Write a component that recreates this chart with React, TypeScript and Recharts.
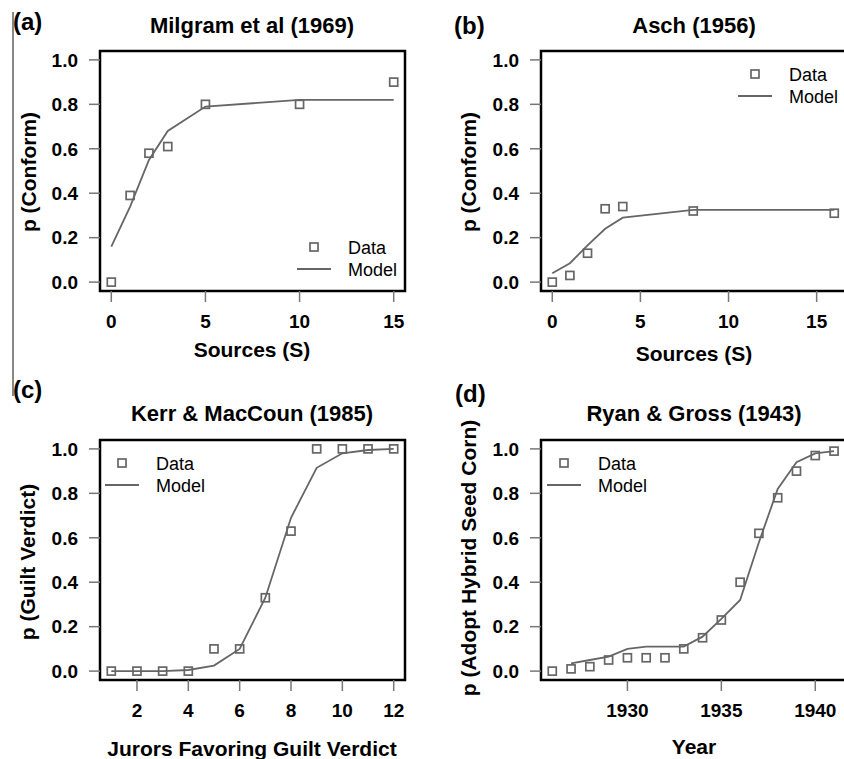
import React from "react";
import {
  ComposedChart,
  Line,
  Scatter,
  XAxis,
  YAxis,
  ReferenceArea,
} from "recharts";

const FONT = '"Liberation Sans", Arial, Helvetica, sans-serif';

// shared y ticks
const yTicks = [0, 0.2, 0.4, 0.6, 0.8, 1.0];

// (a) Milgram et al (1969)
const milgramSources = [0, 1, 2, 3, 5, 10, 15];
const milgramData = [0, 0.39, 0.58, 0.61, 0.8, 0.8, 0.9];
const milgramModel = [0.16, 0.34, 0.55, 0.68, 0.79, 0.82, 0.82];
const milgramTicks = [0, 5, 10, 15];

// (b) Asch (1956)
const aschSources = [0, 1, 2, 3, 4, 8, 16];
const aschData = [0, 0.03, 0.13, 0.33, 0.34, 0.32, 0.31];
const aschModel = [0.04, 0.085, 0.165, 0.24, 0.29, 0.325, 0.325];
const aschTicks = [0, 5, 10, 15];

// (c) Kerr & MacCoun (1985)
const jurors = [1, 2, 3, 4, 5, 6, 7, 8, 9, 10, 11, 12];
const kerrData = [0, 0, 0, 0, 0.1, 0.1, 0.33, 0.63, 1, 1, 1, 1];
const kerrModel = [0, 0, 0, 0.005, 0.025, 0.1, 0.33, 0.69, 0.915, 0.98, 0.995, 1];
const kerrTicks = [2, 4, 6, 8, 10, 12];

// (d) Ryan & Gross (1943)
const ryanYears = [
  1926, 1927, 1928, 1929, 1930, 1931, 1932, 1933, 1934, 1935, 1936, 1937, 1938,
  1939, 1940, 1941,
];
const ryanData = [
  0, 0.01, 0.02, 0.05, 0.06, 0.06, 0.06, 0.1, 0.15, 0.23, 0.4, 0.62, 0.78, 0.9,
  0.97, 0.99,
];
const ryanModelYears = [
  1927, 1928, 1929, 1930, 1931, 1932, 1933, 1934, 1935, 1936, 1937, 1938, 1939,
  1940, 1941,
];
const ryanModel = [
  0.035, 0.05, 0.065, 0.1, 0.11, 0.11, 0.11, 0.155, 0.235, 0.32, 0.58, 0.82,
  0.94, 0.98, 0.99,
];
const ryanTicks = [1930, 1935, 1940];

const zip = (xs: number[], ys: number[]) => xs.map((x, i) => ({ x, y: ys[i] }));

const GRAY = "#666";

const Square = (props: any) => {
  const { cx, cy } = props;
  if (cx == null || cy == null) return null;
  return (
    <rect
      x={cx - 4}
      y={cy - 4}
      width={8}
      height={8}
      fill="none"
      stroke={GRAY}
      strokeWidth={1.7}
    />
  );
};

interface PanelProps {
  left: number;
  top: number;
  width: number;
  height: number;
  margin: { top: number; right: number; bottom: number; left: number };
  xDomain: [number, number];
  xTicks: number[];
  line: { x: number; y: number }[];
  points: { x: number; y: number }[];
}

function Panel({ left, top, width, height, margin, xDomain, xTicks, line, points }: PanelProps) {
  const tickStyle = { fill: "#000", fontSize: 19, fontWeight: 700, fontFamily: FONT };
  return (
    <div style={{ position: "absolute", left, top }}>
      <ComposedChart width={width} height={height} margin={margin}>
        <XAxis
          type="number"
          dataKey="x"
          domain={xDomain}
          ticks={xTicks}
          interval={0}
          allowDataOverflow
          height={60}
          tickSize={11}
          tickMargin={13}
          axisLine={false}
          tickLine={{ stroke: "#777", strokeWidth: 1.5 }}
          tick={tickStyle}
        />
        <YAxis
          type="number"
          dataKey="y"
          domain={[-0.04, 1.04]}
          ticks={yTicks}
          interval={0}
          allowDataOverflow
          width={90}
          tickSize={11}
          tickMargin={11}
          axisLine={false}
          tickLine={{ stroke: "#777", strokeWidth: 1.5 }}
          tick={tickStyle}
          tickFormatter={(v: number) => v.toFixed(1)}
        />
        <ReferenceArea
          x1={xDomain[0]}
          x2={xDomain[1]}
          y1={-0.04}
          y2={1.04}
          fill="none"
          stroke="#000"
          strokeWidth={2.5}
          ifOverflow="visible"
        />
        <Line
          data={line}
          dataKey="y"
          type="linear"
          stroke={GRAY}
          strokeWidth={1.8}
          dot={false}
          activeDot={false}
          isAnimationActive={false}
        />
        <Scatter data={points} dataKey="y" shape={Square} isAnimationActive={false} />
      </ComposedChart>
    </div>
  );
}

function Label({
  x,
  y,
  text,
  size = 21,
  weight = 700,
  rotate = false,
  align = "center",
}: {
  x: number;
  y: number;
  text: string;
  size?: number;
  weight?: number;
  rotate?: boolean;
  align?: "center" | "left";
}) {
  const tx = align === "center" ? "-50%" : "0";
  return (
    <div
      style={{
        position: "absolute",
        left: x,
        top: y,
        transform: `translate(${tx}, -50%)${rotate ? " rotate(-90deg)" : ""}`,
        transformOrigin: rotate ? "50% 50%" : undefined,
        whiteSpace: "nowrap",
        fontFamily: FONT,
        fontSize: size,
        fontWeight: weight,
        lineHeight: 1,
        color: "#000",
      }}
    >
      {text}
    </div>
  );
}

function LegendBox({ x, y }: { x: number; y: number }) {
  // x,y = centre of the square marker
  return (
    <>
      <svg
        width={40}
        height={40}
        style={{ position: "absolute", left: x - 20, top: y - 10 }}
      >
        <rect x={16} y={6} width={8} height={8} fill="none" stroke={GRAY} strokeWidth={1.7} />
        <line x1={3} y1={32} x2={37} y2={32} stroke={GRAY} strokeWidth={1.8} />
      </svg>
      <Label x={x + 34} y={y + 1} text="Data" size={18} weight={400} align="left" />
      <Label x={x + 34} y={y + 23} text="Model" size={18} weight={400} align="left" />
    </>
  );
}

export default function App() {
  return (
    <div
      style={{
        position: "absolute",
        left: 0,
        top: 0,
        width: 844,
        height: 759,
        overflow: "hidden",
        background: "#fff",
      }}
    >
      {/* scan edge */}
      <div style={{ position: "absolute", left: 12, top: 12, width: 2, height: 384, background: "#888" }} />

      <Panel
        left={0}
        top={0}
        width={422}
        height={370}
        margin={{ top: 51, right: 17, bottom: 19, left: 10 }}
        xDomain={[-0.6, 15.6]}
        xTicks={milgramTicks}
        line={zip(milgramSources, milgramModel)}
        points={zip(milgramSources, milgramData)}
      />
      <Panel
        left={422}
        top={0}
        width={460}
        height={370}
        margin={{ top: 51, right: 16, bottom: 19, left: 29 }}
        xDomain={[-0.64, 17.8]}
        xTicks={aschTicks}
        line={zip(aschSources, aschModel)}
        points={zip(aschSources, aschData)}
      />
      <Panel
        left={0}
        top={370}
        width={422}
        height={389}
        margin={{ top: 70, right: 17, bottom: 19, left: 10 }}
        xDomain={[0.56, 12.44]}
        xTicks={kerrTicks}
        line={zip(jurors, kerrModel)}
        points={zip(jurors, kerrData)}
      />
      <Panel
        left={422}
        top={370}
        width={460}
        height={389}
        margin={{ top: 70, right: 16, bottom: 19, left: 29 }}
        xDomain={[1925.4, 1942.7]}
        xTicks={ryanTicks}
        line={zip(ryanModelYears, ryanModel)}
        points={zip(ryanYears, ryanData)}
      />

      {/* panel tags */}
      <Label x={13} y={22} text="(a)" size={24} align="left" />
      <Label x={454} y={26} text="(b)" size={24} align="left" />
      <Label x={13} y={390} text="(c)" size={24} align="left" />
      <Label x={455} y={394} text="(d)" size={24} align="left" />

      {/* titles */}
      <Label x={252} y={26} text="Milgram et al (1969)" size={22} />
      <Label x={694} y={26} text="Asch (1956)" size={22} />
      <Label x={252} y={414} text="Kerr & MacCoun (1985)" size={22} />
      <Label x={694} y={414} text="Ryan & Gross (1943)" size={22} />

      {/* x axis titles */}
      <Label x={252} y={349} text="Sources (S)" />
      <Label x={694} y={353} text="Sources (S)" />
      <Label x={252} y={748} text="Jurors Favoring Guilt Verdict" />
      <Label x={694} y={746} text="Year" />

      {/* y axis titles */}
      <Label x={28} y={172} text="p (Conform)" rotate />
      <Label x={468} y={172} text="p (Conform)" rotate />
      <Label x={27} y={562} text="p (Guilt Verdict)" rotate />
      <Label x={468} y={558} text="p (Adopt Hybrid Seed Corn)" rotate />

      {/* legends */}
      <LegendBox x={314} y={247} />
      <LegendBox x={755} y={74} />
      <LegendBox x={122} y={463} />
      <LegendBox x={564} y={463} />
    </div>
  );
}
